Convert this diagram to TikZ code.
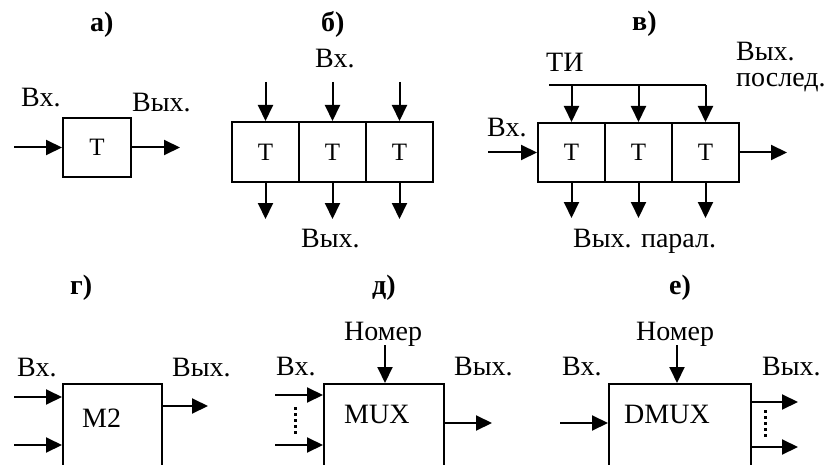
\documentclass[tikz,border=0pt]{standalone}
\usepackage{fontspec}
\setmainfont{Liberation Serif}
\usetikzlibrary{arrows.meta,calc}

\begin{document}
\begin{tikzpicture}[x=1pt,y=-1pt]
	\tikzstyle{cell}=[rectangle,draw=black,line width=2pt,minimum width=67pt,minimum height=60pt,inner sep=0pt,font=\fontsize{25}{30}\selectfont]
	\tikzstyle{blk}=[rectangle,draw=black,line width=2pt,inner sep=0pt]
	\tikzstyle{arr}=[line width=2pt,-{Triangle[length=16pt,width=15pt]}]
	\tikzstyle{txt}=[inner sep=0pt,anchor=base west,font=\fontsize{28}{26}\selectfont]
	\tikzstyle{ttl}=[inner sep=0pt,anchor=base west,font=\fontsize{28}{30}\selectfont\bfseries]
	\tikzstyle{dots}=[line width=3pt,dash pattern=on 3pt off 3pt]
	\clip (0,0) rectangle (829,465);
	% a)
	\node[ttl] (ta) at (90,32) {а)};
	\node[cell,minimum width=68pt,minimum height=59pt] (a1) at (97,147.5) {Т};
	\coordinate (ain) at (14,147.5);
	\coordinate (aout) at (180,147.5);
	\node[txt] (avx) at (21,107) {Вх.};
	\node[txt] (avyx) at (132,112) {Вых.};
	\draw[arr] (ain) -- (a1);
	\draw[arr] (a1) -- (aout);
	% b)
	\node[ttl] (tb) at (321,32) {б)};
	\node[txt] (bvx) at (315,68) {Вх.};
	\node[txt] (bvyx) at (301,247) {Вых.};
	\node[cell] (b1) at (265.5,152) {Т};
	\node[cell] (b2) at (332.5,152) {Т};
	\node[cell] (b3) at (399.5,152) {Т};
	\foreach \i in {1,2,3} {
		\coordinate (bin\i) at ($(b\i.north)+(0,-39)$);
		\coordinate (bout\i) at ($(b\i.south)+(0,36)$);
		\draw[arr] (bin\i) -- (b\i);
		\draw[arr] (b\i) -- (bout\i);
	}
	% v)
	\node[ttl] (tv) at (632,31) {в)};
	\node[cell,minimum height=59pt] (c1) at (571.5,152.5) {Т};
	\node[cell,minimum height=59pt] (c2) at (638.5,152.5) {Т};
	\node[cell,minimum height=59pt] (c3) at (705.5,152.5) {Т};
	\node[txt] (cti) at (546,72) {ТИ};
	\node[txt] (cvx) at (487,137) {Вх.};
	\node[txt,align=left] (cpos) at (736,87) {Вых.\\послед.};
	\node[txt] (cpar) at (573,247) {Вых. парал.};
	\coordinate (cbus) at (549,85);
	\coordinate (cin) at (488,152.5);
	\coordinate (cout) at (787,152.5);
	\draw[line width=2pt] (cbus) -- (cbus -| c3);
	\foreach \i in {1,2,3} {
		\coordinate (cpo\i) at ($(c\i.south)+(0,35)$);
		\draw[arr] (cbus -| c\i) -- (c\i);
		\draw[arr] (c\i) -- (cpo\i);
	}
	\draw[arr] (cin) -- (c1);
	\draw[arr] (c3) -- (cout);
	% g)
	\node[ttl] (tg) at (70,294) {г)};
	\node[blk,minimum width=99pt,minimum height=100pt,anchor=north] (m2) at (112.5,383) {};
	\node[txt] (m2t) at (82,427) {М2};
	\node[txt] (gvx) at (17,376) {Вх.};
	\node[txt] (gvyx) at (172,376) {Вых.};
	\coordinate (gin1) at (14,397);
	\coordinate (gin2) at (14,445);
	\coordinate (gout) at (208,406);
	\draw[arr] (gin1) -- (gin1 -| m2.west);
	\draw[arr] (gin2) -- (gin2 -| m2.west);
	\draw[arr] (gout -| m2.east) -- (gout);
	% d)
	\node[ttl] (td) at (372,294) {д)};
	\node[blk,minimum width=120pt,minimum height=100pt,anchor=north] (mux) at (384,383) {};
	\node[txt] (muxt) at (344,423) {MUX};
	\node[txt] (dnom) at (344,340) {Номер};
	\node[txt] (dvx) at (276,375) {Вх.};
	\node[txt] (dvyx) at (454,375) {Вых.};
	\coordinate (dsel) at (385,345);
	\coordinate (din1) at (275,395);
	\coordinate (din2) at (275,445);
	\coordinate (dout) at (492,423);
	\coordinate (ddot1) at (295,407);
	\coordinate (ddot2) at (295,434);
	\draw[arr] (dsel) -- (dsel |- mux.north);
	\draw[arr] (din1) -- (din1 -| mux.west);
	\draw[arr] (din2) -- (din2 -| mux.west);
	\draw[arr] (dout -| mux.east) -- (dout);
	\draw[dots] (ddot1) -- (ddot2);
	% e)
	\node[ttl] (te) at (669,294) {е)};
	\node[blk,minimum width=142pt,minimum height=100pt,anchor=north] (dmux) at (680,383) {};
	\node[txt] (dmuxt) at (624,423) {DMUX};
	\node[txt] (enom) at (636,340) {Номер};
	\node[txt] (evx) at (562,375) {Вх.};
	\node[txt] (evyx) at (762,375) {Вых.};
	\coordinate (esel) at (677,345);
	\coordinate (ein) at (560,423);
	\coordinate (eout1) at (798,402);
	\coordinate (eout2) at (798,447);
	\coordinate (edot1) at (765,410);
	\coordinate (edot2) at (765,437);
	\draw[arr] (esel) -- (esel |- dmux.north);
	\draw[arr] (ein) -- (ein -| dmux.west);
	\draw[arr] (eout1 -| dmux.east) -- (eout1);
	\draw[arr] (eout2 -| dmux.east) -- (eout2);
	\draw[dots] (edot1) -- (edot2);
\end{tikzpicture}
\end{document}
